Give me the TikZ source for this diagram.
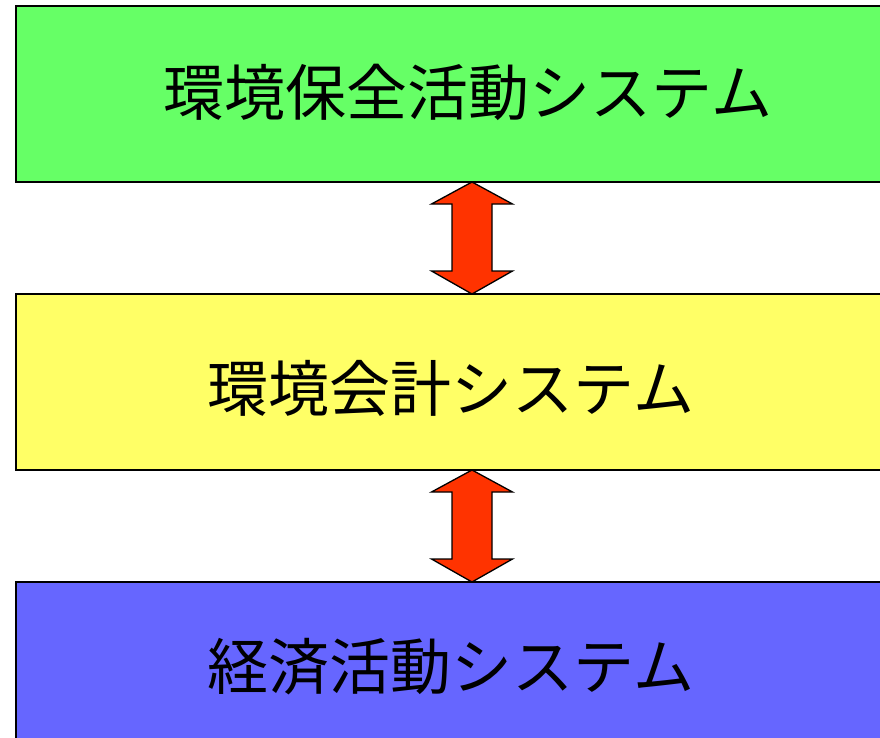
\documentclass[tikz,border=0pt]{standalone}
\usepackage{fontspec}
\newfontfamily\cjk{Noto Sans CJK JP}
\definecolor{boxgreen}{HTML}{66FF66}
\definecolor{boxyellow}{HTML}{FFFF66}
\definecolor{boxblue}{HTML}{6666FF}
\definecolor{arrowred}{HTML}{FF3300}
\tikzset{
  sysbox/.style={draw=black, line width=1.8pt},
  systext/.style={font=\cjk\fontsize{61}{61}\selectfont, inner sep=0pt, anchor=center},
  blockarrow/.style={draw=black, fill=arrowred, line width=1.3pt, line join=miter}
}
\begin{document}
\begin{tikzpicture}[x=1pt,y=-1pt]
\useasboundingbox (0,0) rectangle (880,738);
\fill[white] (0,0) rectangle (880,738);
% boxes
\draw[sysbox, fill=boxgreen]  (16,6) rectangle (920,182);
\draw[sysbox, fill=boxyellow] (16,294) rectangle (886,470);
\draw[sysbox, fill=boxblue]   (16,582) rectangle (886,760);
% texts
\node[systext] (t1) at (468,92) {環境保全活動システム};
\node[systext] (t2) at (451,388) {環境会計システム};
\node[systext] (t3) at (451,667) {経済活動システム};
% double arrows
\draw[blockarrow] (472,182) -- (512.5,204) -- (492,204) -- (492,271) -- (512.5,271)
  -- (472,294) -- (431.5,271) -- (452,271) -- (452,204) -- (431.5,204) -- cycle;
\draw[blockarrow] (472,470) -- (512.5,492) -- (492,492) -- (492,559) -- (512.5,559)
  -- (472,582) -- (431.5,559) -- (452,559) -- (452,492) -- (431.5,492) -- cycle;
\end{tikzpicture}
\end{document}
